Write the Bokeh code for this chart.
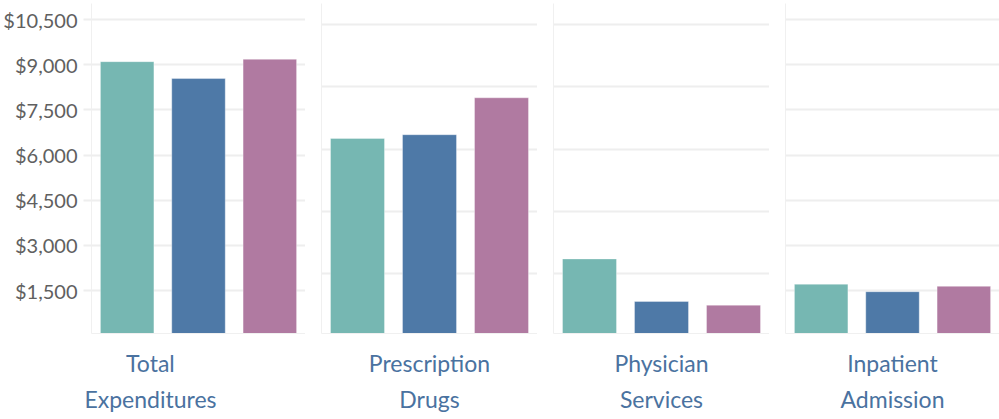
from bokeh.plotting import figure
from bokeh.layouts import row
from bokeh.models import (Range1d, FixedTicker, NumeralTickFormatter,
                          LinearAxis, ColumnDataSource)
from bokeh.embed import file_html
from bokeh.resources import INLINE

# ---- data ----
categories = ["Total Expenditures", "Prescription Drugs", "Physician Services", "Inpatient Admission"]
series = ["Series A", "Series B", "Series C"]
values_a = [9100, 6340, 2460, 1710]
values_b = [8540, 6460, 1090, 1460]
values_c = [9180, 7650, 970, 1640]
colors = ["#76b7b2", "#4e79a7", "#b07aa1"]

# each panel has its own (hidden) value axis
y_starts = [72, 58, 58, 72]
y_ends = [11032, 10686, 10686, 11032]
ticks_1500 = [1500, 3000, 4500, 6000, 7500, 9000, 10500]
ticks_2000 = [2000, 4000, 6000, 8000, 10000]
panel_ticks = [ticks_1500, ticks_2000, ticks_2000, ticks_1500]

FONT = "Lato"
GRID = "#eeeeee"
FAINT = "#f0f0f0"

frame_w = [216, 216, 216, 214]
left_b = [89, 16, 16, 16]

n = len(series)
slot = [k + 0.5 for k in range(n)]   # slot centres of the series within a panel

figs = []
for i, cat in enumerate(categories):
    vals = [values_a[i], values_b[i], values_c[i]]
    src = ColumnDataSource(dict(x=slot, s=series, v=vals, c=colors))
    total_w = left_b[i] + frame_w[i]
    p = figure(x_range=Range1d(0, n),
               y_range=Range1d(y_starts[i], y_ends[i]),
               width=total_w, height=419,
               min_border_left=left_b[i], min_border_right=0,
               min_border_top=3, min_border_bottom=86,
               output_backend="svg", toolbar_location=None,
               background_fill_color="white", border_fill_color="white",
               outline_line_color=None)
    p.vbar(x="x", top="v", bottom=0, width=0.75, source=src,
           fill_color="c", line_color="white", line_alpha=0.35, line_width=1)

    p.xaxis.visible = False
    p.xgrid.visible = False
    p.ygrid.ticker = FixedTicker(ticks=panel_ticks[i])
    p.ygrid.grid_line_color = GRID
    p.ygrid.grid_line_width = 2

    ya = p.yaxis[0]
    ya.axis_line_color = FAINT
    ya.minor_tick_line_color = None
    if i == 0:
        ya.ticker = FixedTicker(ticks=panel_ticks[i])
        ya.formatter = NumeralTickFormatter(format="$0,0")
        ya.major_label_text_font = FONT
        ya.major_label_text_font_size = "20px"
        ya.major_label_text_color = "#606060"
        ya.major_tick_out = 8
        ya.major_tick_in = 0
        ya.major_tick_line_color = GRID
        ya.major_tick_line_width = 2
        ya.major_label_standoff = 6
    else:
        ya.ticker = FixedTicker(ticks=[])
        ya.major_tick_line_color = None
        ya.major_tick_out = 0
        ya.major_tick_in = 0
        ya.major_label_standoff = 0

    # header under each panel: first one is centred over axis + panel
    pos = ((total_w / 2 - 4 - left_b[i]) / frame_w[i]) * n if i == 0 else n / 2
    lab = LinearAxis(ticker=FixedTicker(ticks=[pos]),
                     major_label_overrides={pos: cat.replace(" ", "\n")},
                     axis_line_color=FAINT, major_tick_line_color=None,
                     minor_tick_line_color=None, major_tick_out=0, major_tick_in=0,
                     major_label_standoff=15,
                     major_label_text_font=FONT, major_label_text_font_size="23px",
                     major_label_text_color="#4a72a0",
                     major_label_text_line_height=1.3)
    p.add_layout(lab, "below")
    figs.append(p)

layout = row(*figs, spacing=0)
open("out.html", "w").write(file_html(layout, INLINE))
